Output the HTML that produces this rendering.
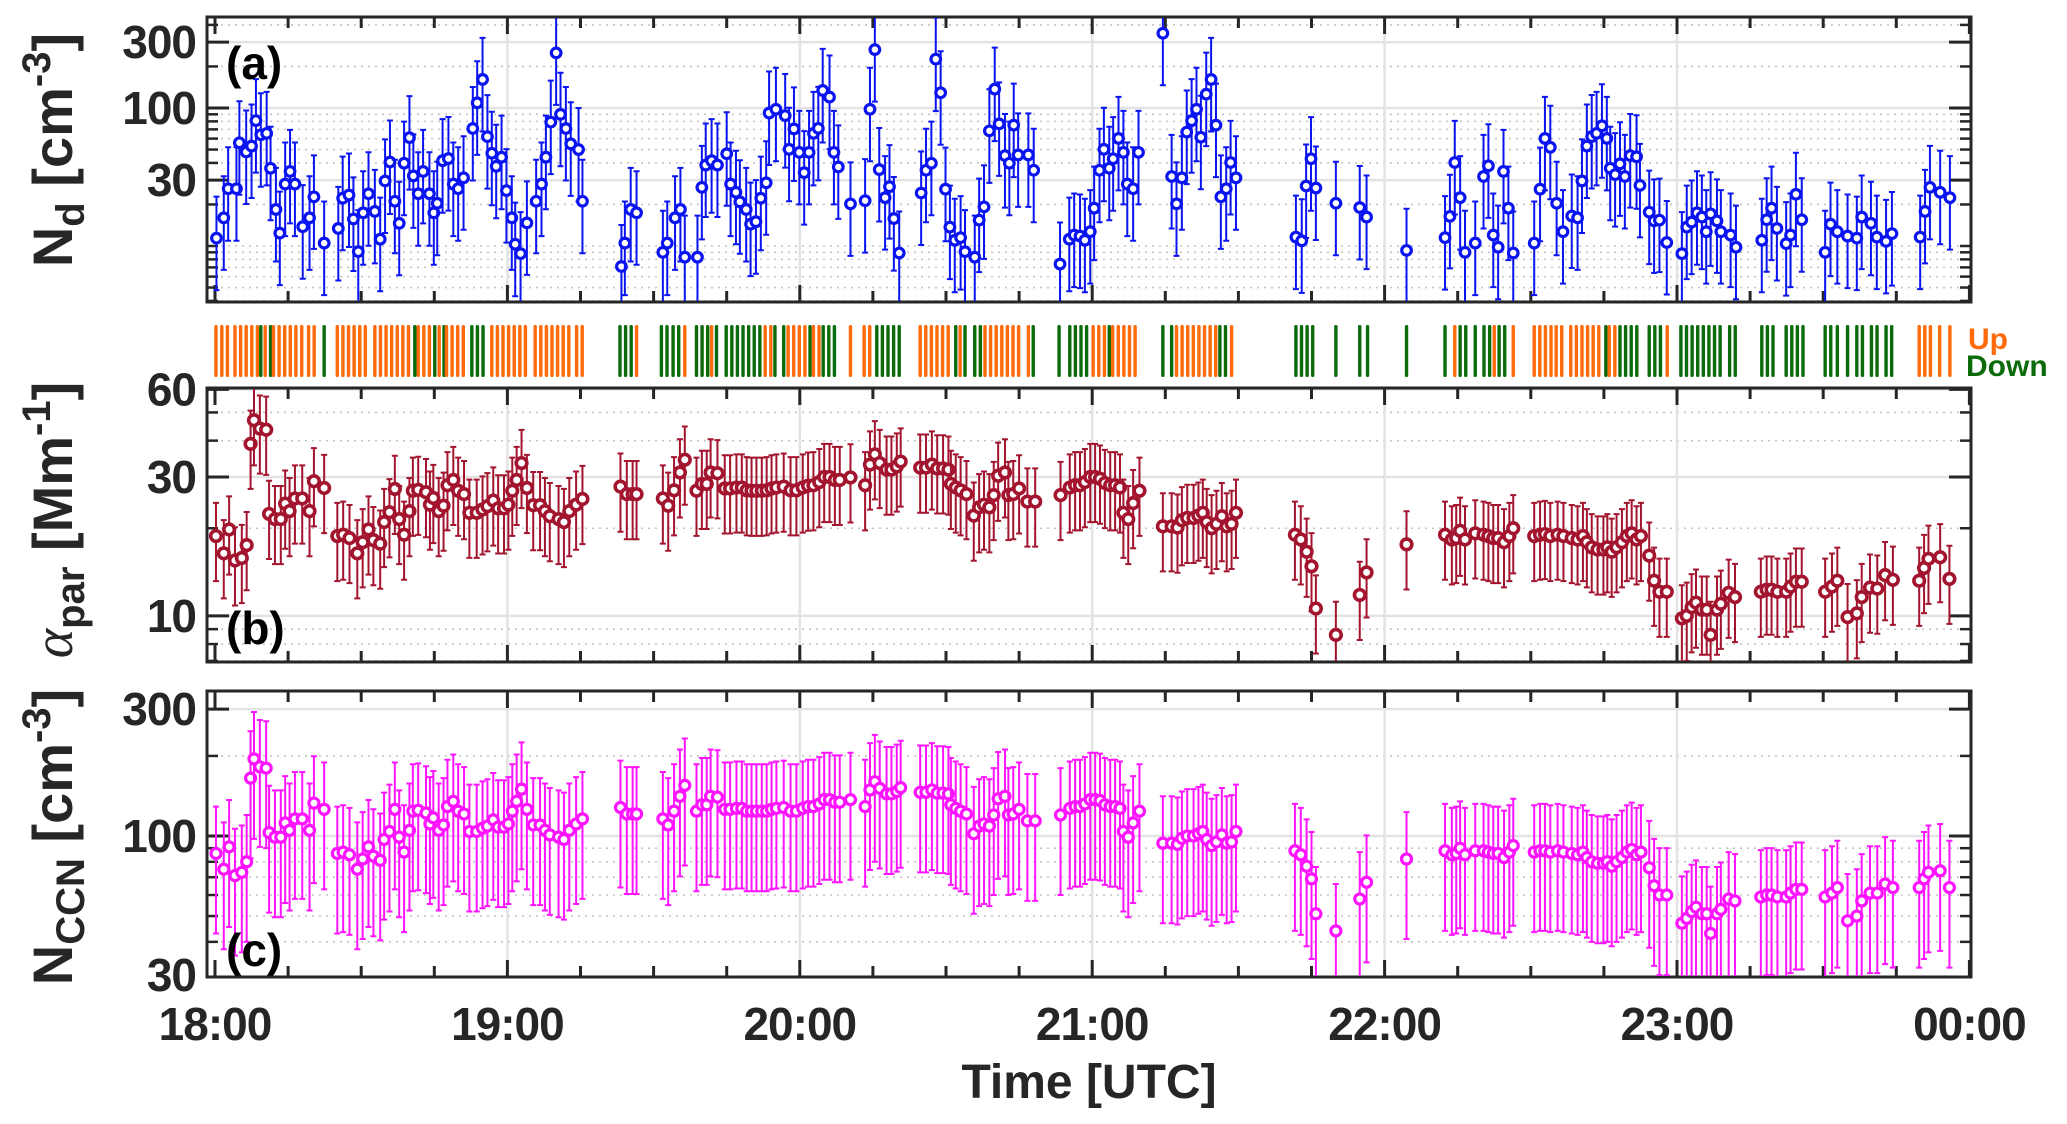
<!DOCTYPE html>
<html><head><meta charset="utf-8"><title>Nd, alpha, NCCN time series</title>
<style>
html,body{margin:0;padding:0;background:#fff;}
svg{display:block;font-family:"Liberation Sans",Arial,sans-serif;font-weight:bold;}
</style></head>
<body>
<svg id="chart" width="2067" height="1124" viewBox="0 0 2067 1124" xmlns="http://www.w3.org/2000/svg">
<defs>
<clipPath id="clipA"><rect x="208" y="18" width="1762" height="283"/></clipPath>
<clipPath id="clipB"><rect x="208" y="389" width="1762" height="272"/></clipPath>
<clipPath id="clipC"><rect x="208" y="692" width="1762" height="284"/></clipPath>
</defs>
</svg>
<script>
// ---------- DATA ----------
// Panel (a) Nd
const timesA=[0.3,1.8,2.7,4.4,5.0,6.4,7.5,8.4,9.4,10.6,11.4,12.5,13.3,14.4,15.4,16.4,18.0,19.4,20.3,22.4,25.3,26.2,27.5,28.4,29.4,30.4,31.5,32.8,33.9,34.9,35.9,36.9,37.8,38.8,39.9,40.7,41.7,42.7,44.0,44.9,45.6,46.7,47.9,48.9,49.9,51.0,52.9,53.8,54.9,55.9,56.8,57.7,58.8,59.8,60.9,61.6,62.7,64.0,65.9,67.0,67.9,68.9,70.0,70.9,72.0,73.0,74.6,75.4,83.4,84.1,85.3,86.5,
91.9,92.8,94.4,95.5,96.4,99.0,99.9,100.7,101.9,103.1,105.0,105.8,106.9,107.7,109.0,109.9,111.0,112.0,113.1,113.7,115.1,117.0,117.8,118.8,119.9,120.9,121.9,122.8,123.8,124.7,126.1,127.0,127.9,130.4,133.4,134.4,135.4,136.3,137.5,138.4,139.3,140.4,144.9,145.9,147.0,147.9,148.9,149.9,150.8,151.8,153.0,153.9,155.9,156.8,157.8,158.9,160.0,160.9,162.1,163.0,163.9,164.8,166.9,168.0,173.4,175.3,176.3,
177.5,178.5,179.6,180.4,181.5,182.4,183.5,184.3,185.4,186.4,187.2,188.4,189.5,194.5,196.3,197.3,198.4,199.4,200.4,201.4,202.3,203.4,204.4,205.4,206.4,207.5,208.4,209.5,221.8,223.0,223.9,224.9,225.9,230.0,234.9,236.3,244.5,252.4,253.4,254.4,255.5,256.5,258.6,260.3,261.3,262.3,263.3,264.4,265.4,266.4,
270.7,271.9,272.9,274.0,275.3,276.6,278.4,279.6,280.5,281.5,282.5,283.5,284.6,285.6,286.3,287.3,288.3,289.3,290.4,291.7,292.4,294.3,295.3,296.4,297.9,301.0,302.0,303.0,304.1,305.1,306.0,306.9,308.2,309.0,311.0,312.1,317.4,318.4,319.4,320.5,322.4,323.3,324.4,325.6,330.4,331.5,332.9,335.0,336.9,337.9,339.8,341.0,342.9,344.1,349.9,350.9,351.9,354.0,356.0];
const valuesNd=[11.4,16.0,26.0,26.0,56,48,53,81,64,65.5,36.6,18.4,12.4,28.1,34.7,28.1,13.8,16.0,22.7,10.5,13.4,22.2,23.4,15.7,9.1,17.4,23.9,17.8,11.2,29.6,40.6,21.1,14.6,39.8,61,32.2,23.9,34.7,23.9,17.4,20.4,41.5,43,28.1,26.0,31.2,71,109,161,62,47,37.8,44,25.2,16.0,10.3,8.8,14.7,21.1,28.1,44,79,251,90,71,55,50,21.1,7.1,10.5,18.4,17.4,
9.0,10.5,16.0,18.4,8.3,8.3,26.6,38.6,41.5,38.6,46.6,28.1,24.5,20.9,18.4,14.4,15.0,22.2,28.7,91.9,97.9,88.1,50.2,70.5,47.7,34.0,47.7,65.5,71.2,134,120,47.7,37.4,20.2,21.3,97.9,265,35.8,22.4,26.9,15.8,8.9,24.2,35.4,39.8,226,129,25.8,13.7,11.0,11.5,9.1,8.3,15.4,19.2,68.3,137,76.7,45.2,39.8,75.1,45.7,45.7,35.4,7.4,11.2,12.0,
11.8,11.0,12.7,18.8,35.4,50.2,36.6,42.9,60.2,47.7,28.1,26.0,47.7,348,31.9,20.2,31.2,66.9,80.9,97.9,61.4,126,161,75.1,22.7,26.0,40.3,31.2,11.6,10.9,27.2,42.9,26.3,20.4,19.0,16.2,9.3,11.5,16.4,40.3,22.4,9.0,10.5,31.9,38.1,12.0,9.8,34.7,18.8,8.9,
10.5,25.8,60.2,51.9,20.4,12.7,16.5,16.0,29.6,53,62.1,65.5,74.3,60.2,36.6,32.9,39.4,31.9,45.2,44.3,27.5,17.6,15.2,15.4,10.6,8.8,13.7,14.9,17.4,16.2,12.7,17.1,15.2,12.7,12.0,9.8,11.0,15.5,18.8,13.4,10.4,12.0,23.7,15.5,9.0,14.4,12.7,11.8,11.4,16.2,14.6,11.6,10.8,12.3,11.6,17.8,26.6,24.5,22.4];
const errUpNd=2.0, errDownNd=0.42;

// Panels (b) alpha_par and (c) NCCN share times
const timesBC=[0.2,1.8,2.9,4.1,5.5,6.5,7.3,8.0,9.2,10.5,11.1,12.3,13.5,14.4,15.3,16.4,17.9,19.4,20.3,22.4,25.1,26.3,27.6,29.2,30.3,31.5,32.5,33.9,34.7,35.8,36.9,37.8,38.8,39.9,40.6,41.7,43.3,44.1,44.8,45.9,46.9,47.7,48.9,49.9,51.1,52.2,53.7,54.9,55.9,57.1,58.1,59.3,60.2,61.0,61.9,62.9,64.0,65.3,66.7,67.7,68.7,70.5,71.6,72.7,74.1,75.4,83.2,84.5,85.7,86.5,
91.9,93.0,94.2,95.4,96.4,98.8,99.9,100.9,101.7,103.1,104.6,105.7,107.0,108.1,109.1,110.1,111.1,112.2,113.2,114.2,115.2,116.7,118.1,119.3,120.6,121.7,122.8,124.0,125.0,126.1,127.2,128.2,130.4,133.4,134.4,135.4,136.4,137.8,138.8,139.9,140.7,144.7,145.9,147.1,148.2,149.4,150.5,151.0,152.0,153.0,154.2,155.7,156.8,157.8,158.9,159.8,160.7,162.1,162.8,163.8,165.0,166.7,168.3,173.5,175.4,176.5,
177.5,178.5,179.6,180.6,181.6,182.6,183.7,184.7,185.7,186.4,187.4,188.4,189.7,194.5,196.3,197.5,198.4,199.5,200.8,201.8,202.7,203.5,204.5,205.5,206.6,207.6,208.6,209.5,221.6,222.8,224.0,225.0,225.9,230.0,234.9,236.3,244.5,252.4,253.8,254.7,255.5,256.5,258.6,260.3,261.3,262.3,263.3,264.5,265.6,266.4,
270.7,271.9,272.9,274.0,275.5,276.7,278.4,279.6,280.7,281.5,282.5,283.7,284.9,285.7,286.6,287.6,288.7,289.7,290.7,291.7,292.6,294.3,295.3,296.4,297.9,301.0,302.0,303.0,303.9,305.1,306.1,306.9,308.2,309.0,310.6,311.9,317.2,318.4,319.4,320.6,322.4,323.3,324.4,325.6,330.4,331.8,332.9,335.0,336.9,337.9,339.6,341.1,342.7,344.3,349.7,350.7,351.6,354.0,355.9];
const valuesAlpha=[18.8,16.4,19.8,15.5,15.8,17.5,39,47,44,43.6,22.4,21.5,21.5,24.3,22.9,25.3,25.3,22.9,29,27.5,18.8,19.0,18.5,16.4,17.9,19.8,18.2,17.7,21.0,22.7,27.3,21.5,19.0,22.9,26.9,27.1,26.6,24.1,25.4,22.9,23.9,28.1,29.3,26.9,26.2,22.6,22.6,23.2,23.8,24.9,23.4,23.4,24.1,26.9,29.3,33.5,27.5,24.0,24.0,22.9,22.0,21.5,21.0,22.9,24.1,25.2,27.8,26.2,26.2,26.2,
25.3,23.9,27.0,31.1,34.4,26.9,28.4,28.4,31.1,30.9,27.4,27.4,27.6,27.6,27.0,26.9,26.9,26.9,27.0,27.4,27.6,27.8,27.0,27.0,27.6,28.0,28.1,28.8,30.0,30.0,29.3,29.3,29.9,28.1,33.1,35.9,33.5,31.8,31.8,32.6,33.9,32.3,32.3,33.1,32.1,32.1,31.8,28.4,27.6,27.0,26.2,22.1,23.6,24.1,23.6,26.0,30.3,31.1,26.0,26.2,27.4,24.7,24.7,26.0,27.6,28.1,
28.1,28.8,30.0,30.0,29.6,28.6,28.1,28.1,27.6,22.6,21.5,24.4,26.9,20.3,20.3,20.1,21.3,21.7,21.7,22.1,22.6,21.0,20.0,20.7,22.0,20.3,20.7,22.6,19.0,18.3,16.6,14.8,10.6,8.6,11.8,14.1,17.6,19.0,18.3,18.5,19.6,18.3,19.2,19.0,18.8,18.5,18.5,17.9,18.8,20.0,
18.8,19.0,19.1,18.8,19.0,18.8,18.5,18.3,18.8,17.9,17.2,16.9,16.9,17.2,16.6,17.2,17.9,18.8,19.2,18.3,18.8,16.1,13.2,12.1,12.1,9.8,10.0,10.7,11.1,10.5,10.5,8.6,10.5,11.0,12.0,11.6,12.1,12.3,12.3,12.1,12.1,12.6,13.1,13.1,12.1,12.6,13.2,9.9,10.2,11.6,12.5,12.4,13.8,13.3,13.2,14.6,15.7,15.9,13.4];
const valuesCCN=[86,75,91,71,73,80,165,195,182,180,103,99,99,112,105,116,116,105,133,126,86,87,85,75,82,91,84,81,97,104,126,99,87,105,124,125,122,111,117,105,110,129,135,124,121,104,104,107,109,115,108,108,111,124,135,150,126,110,110,105,101,99,97,105,111,116,128,121,121,121,
116,110,124,141,155,124,131,131,141,140,126,126,127,127,124,124,124,124,124,126,127,128,124,124,127,129,129,132,137,137,134,134,137,129,149,160,151,144,144,147,152,146,146,149,145,145,144,131,127,124,121,102,109,111,109,120,138,141,120,121,126,114,114,120,127,129,
129,132,137,137,136,131,129,129,127,104,99,112,124,94,94,93,98,100,100,102,104,97,92,95,101,94,95,104,88,85,77,69,51,44,58,67,82,88,85,86,90,85,88,88,87,86,86,83,87,92,
87,88,88,87,88,87,86,85,87,83,80,79,79,80,77,80,83,87,89,85,87,76,65,60,60,47,49,52,54,51,51,43,51,53,58,57,59,60,60,59,59,61,63,63,59,61,64,48,50,57,61,61,66,64,64,69,73,74,64];
const errUpAlpha=1.3, errDownAlpha=0.7;
const errUpCCN=1.5, errDownCCN=0.5;

// Up / Down flight-leg segments [start min, end min, dir(1=up,0=down)]
const legStart=[0.2,1.4,4.1,9.4,10.3,11.4,12.0,17.8,19.2,22.4,25.1,32.8,41.0,41.7,45.1,46.0,47.0,47.5,52.7,56.8,65.7,74.2,83.1,86.5,
91.6,94.0,96.4,98.8,101.9,102.9,104.9,112.9,114.9,116.7,117.6,122.1,122.8,124.8,130.4,133.2,135.8,144.7,152.0,152.9,153.9,155.9,158.0,166.9,167.9,173.2,175.4,
180.2,183.5,184.2,194.5,196.3,197.3,206.2,208.6,221.8,230.0,234.9,236.5,244.5,252.4,254.4,255.5,258.6,260.4,262.5,263.5,266.4,
270.7,275.2,278.2,285.4,286.1,288.3,294.3,298.0,300.8,310.8,317.4,322.4,330.4,332.9,335.0,336.9,339.9,342.9,349.7,353.9,356.0];
const legEnd=[1.0,3.4,8.9,9.4,11.0,11.4,16.8,18.5,20.9,22.4,31.8,40.7,41.0,44.5,45.1,46.0,47.0,51.3,56.1,64.3,73.2,75.9,85.8,86.5,
93.0,95.7,96.4,101.2,101.9,102.9,112.2,114.2,114.9,116.7,121.4,122.1,124.1,128.2,130.4,135.1,140.9,151.5,152.0,152.9,153.9,157.3,165.2,166.9,167.9,173.2,179.6,
183.0,183.5,189.8,194.5,196.3,205.9,207.6,209.6,226.1,230.0,234.9,236.5,244.5,253.4,254.4,256.7,258.6,261.6,262.5,265.7,266.4,
274.3,276.7,284.9,285.4,288.0,292.8,296.9,298.0,309.2,312.3,320.8,326.0,331.8,332.9,335.0,338.2,341.3,344.3,352.3,353.9,356.0];
const legDir=[1,1,1,0,1,0,1,1,1,0,1,1,0,1,0,1,0,1,0,1,1,1,0,1,
0,0,1,0,1,0,0,1,0,0,1,0,1,0,1,1,0,1,0,1,0,0,1,1,0,0,0,
1,0,1,0,0,1,0,1,0,0,0,0,0,0,1,0,0,0,1,0,1,
1,1,1,0,1,0,0,1,0,0,0,0,0,0,0,0,0,0,1,1,1];

const xTickLabels=["18:00","19:00","20:00","21:00","22:00","23:00","00:00"];
const yTicksA=[30,100,300], yTicksB=[10,30,60], yTicksC=[30,100,300];

// ---------- SCALES ----------
const X0=215, PXMIN=292.4/60;
const FL=207, FR=1971;
function xS(m){return X0+m*PXMIN;}
function yA(v){return 108-(Math.log10(v)-2)*138;}
function yB(v){return 477-(Math.log10(v)-Math.log10(30))*291;}
function yC(v){return 836-(Math.log10(v)-2)*266;}
const panels={
 a:{top:17,bot:302,y:yA,min:3.9,max:455,ticks:yTicksA},
 b:{top:388,bot:662,y:yB,min:6.95,max:60.6,ticks:yTicksB},
 c:{top:691,bot:977,y:yC,min:30,max:350,ticks:yTicksC}
};
const svg=document.getElementById('chart');
const NS='http://www.w3.org/2000/svg';
function mk(tag,attrs,parent){const e=document.createElementNS(NS,tag);for(const k in attrs)e.setAttribute(k,attrs[k]);(parent||svg).appendChild(e);return e;}

function minorVals(min,max){const out=[];for(let d=-1;d<4;d++){for(let k=1;k<10;k++){const v=k*Math.pow(10,d);if(v>=min*1.001&&v<=max*0.999)out.push(v);}}return out;}

function drawPanel(key,name){
 const p=panels[key];
 const g=mk('g',{});
 
 
 minorVals(p.min,p.max).forEach(v=>{
  const y=p.y(v);
  if(p.ticks.indexOf(v)>=0){
   const gl=mk('line',{x1:FL,x2:FR,y1:y,y2:y,stroke:'#e3e3e3','stroke-width':2.5},g);
   
   
   mk('line',{x1:FL,x2:FL+22,y1:y,y2:y,stroke:'#262626','stroke-width':3},g);
   mk('line',{x1:FR-22,x2:FR,y1:y,y2:y,stroke:'#262626','stroke-width':3},g);
  } else {
   const gl=mk('line',{x1:FL,x2:FR,y1:y,y2:y,stroke:'#c4c4c4','stroke-width':1.6,'stroke-dasharray':'2 5'},g);
   
   
   mk('line',{x1:FL,x2:FL+11,y1:y,y2:y,stroke:'#262626','stroke-width':2.5},g);
   mk('line',{x1:FR-11,x2:FR,y1:y,y2:y,stroke:'#262626','stroke-width':2.5},g);
  }
 });
 for(let m=0;m<=360;m+=15){
  const x=xS(m);
  if(m%60===0&&m>0&&m<360){
   const gl=mk('line',{x1:x,x2:x,y1:p.top,y2:p.bot,stroke:'#e3e3e3','stroke-width':2.5},g);
   
   
  }
  const L=(m%60===0)?17:11;
  mk('line',{x1:x,x2:x,y1:p.top,y2:p.top+L,stroke:'#262626','stroke-width':3},g);
  mk('line',{x1:x,x2:x,y1:p.bot,y2:p.bot-L,stroke:'#262626','stroke-width':3},g);
 }
 const fr=mk('rect',{x:FL,y:p.top,width:FR-FL,height:p.bot-p.top,fill:'none',stroke:'#262626','stroke-width':3},g);
 
 
 p.ticks.forEach(v=>{
  const t=mk('text',{x:196,y:p.y(v)+16,'text-anchor':'end','font-size':46,fill:'#262626','letter-spacing':'-1'},g);
  t.textContent=String(v);
  
  
 });
}
drawPanel('a','nd-panel');
drawPanel('b','alpha-panel');
drawPanel('c','ccn-panel');

function drawSeries(times,vals,up,down,yfun,clip,color,r,sw,ew,name){
 const g=mk('g',{'clip-path':'url(#'+clip+')'});
 
 
 for(let i=0;i<times.length;i++){
  const x=xS(times[i]);
  const y=yfun(vals[i]), y1=yfun(vals[i]*up), y2=yfun(vals[i]*down);
  const eb=mk('path',{d:`M${x},${y1}V${y2}M${x-3},${y1}H${x+3}M${x-3},${y2}H${x+3}`,stroke:color,'stroke-width':ew,fill:'none'},g);
  
  
  const c=mk('circle',{cx:x,cy:y,r:r,fill:'#fff',stroke:color,'stroke-width':sw},g);
  
  
 }
}
drawSeries(timesA,valuesNd,errUpNd,errDownNd,yA,'clipA','#0a14f0',4.8,3.2,2,'nd-series');
drawSeries(timesBC,valuesAlpha,errUpAlpha,errDownAlpha,yB,'clipB','#a3142e',5.3,3.6,2,'alpha-series');
drawSeries(timesBC,valuesCCN,errUpCCN,errDownCCN,yC,'clipC','#ff14ff',5,3.2,2,'ccn-series');

// Up/Down legs
const legG=mk('g',{});


for(let i=0;i<legStart.length;i++){
 const col=legDir[i]?'#ff6a0a':'#0b6b0b';
 for(let m=legStart[i];m<=legEnd[i]+0.01;m+=1.15){
  const b=mk('rect',{x:xS(m)-1.7,y:325,width:3.4,height:52,fill:col,rx:1.5},legG);
  
  
 }
}
let t;
t=mk('text',{x:1968,y:349,'font-size':30,fill:'#ff6a0a'});t.textContent='Up';


t=mk('text',{x:1966,y:376,'font-size':30,fill:'#0b6b0b'});t.textContent='Down';



xTickLabels.forEach((s,i)=>{
 const tl=mk('text',{x:xS(i*60),y:1040,'text-anchor':'middle','font-size':46,fill:'#262626','letter-spacing':'-1'});
 tl.textContent=s;
 
 
});
t=mk('text',{x:1089,y:1098,'text-anchor':'middle','font-size':48,fill:'#262626'});t.textContent='Time [UTC]';



[['(a)',226,79,'panel-label-a'],['(b)',226,644,'panel-label-b'],['(c)',226,966,'panel-label-c']].forEach(a=>{
 const pl=mk('text',{x:a[1],y:a[2],'font-size':46,fill:'#000'});
 pl.textContent=a[0];
 
 
});
</script>
<script>
(function(){
 const svg=document.getElementById('chart');
 const NS='http://www.w3.org/2000/svg';
 function title(cx,cy,parts,name){
  const tx=document.createElementNS(NS,'text');
  tx.setAttribute('transform',`translate(${cx},${cy}) rotate(-90)`);
  tx.setAttribute('text-anchor','middle');
  tx.setAttribute('font-size','56');
  tx.setAttribute('fill','#262626');
  
  
  parts.forEach(p=>{
   const ts=document.createElementNS(NS,'tspan');
   ts.textContent=p[0];
   if(p[1]==='sub'){ts.setAttribute('font-size','40');ts.setAttribute('dy','12');}
   if(p[1]==='base'){ts.setAttribute('dy','-12');}
   if(p[1]==='sup'){ts.setAttribute('font-size','40');ts.setAttribute('dy','-22');}
   if(p[1]==='unsup'){ts.setAttribute('dy','22');}
   if(p[1]==='ital'){ts.setAttribute('font-style','italic');ts.setAttribute('font-family','Liberation Serif, serif');ts.setAttribute('font-weight','normal');}
   tx.appendChild(ts);
  });
  svg.appendChild(tx);
 }
 title(72,150,[['N'],['d','sub'],[' [cm','base'],['-3','sup'],[']','unsup']],'nd-y-axis-title');
 title(72,520,[['α','ital'],['par','sub'],[' [Mm','base'],['-1','sup'],[']','unsup']],'alpha-y-axis-title');
 title(72,837,[['N'],['CCN','sub'],[' [cm','base'],['-3','sup'],[']','unsup']],'ccn-y-axis-title');
})();
</script>
</body></html>
